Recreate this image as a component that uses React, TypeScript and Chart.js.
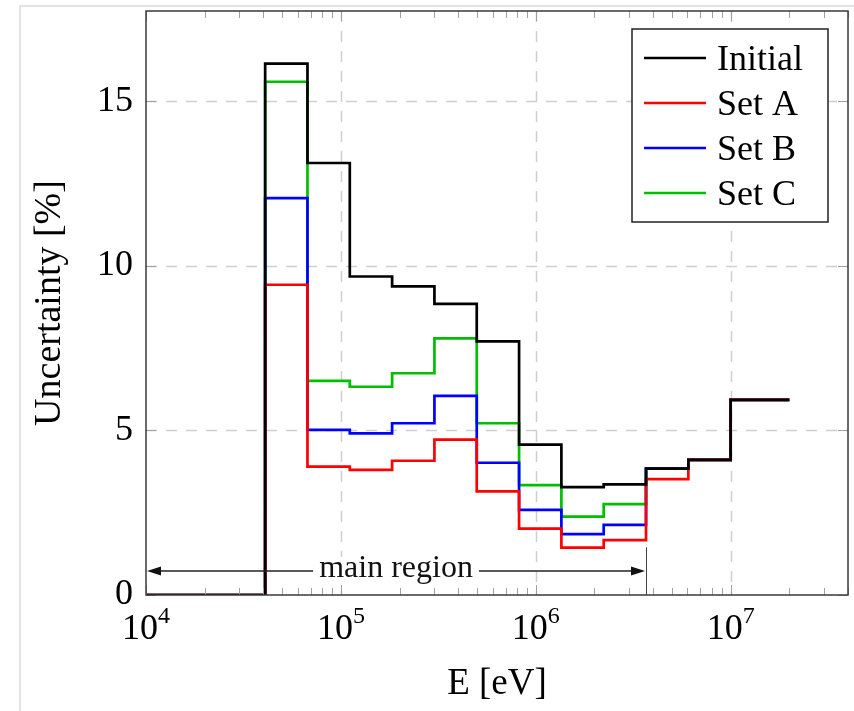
import React, { useEffect, useRef } from 'react';
import { Chart, registerables } from 'chart.js';

Chart.register(...registerables);

// Bin edges in eV (left edges, last = right end of last bin)
const binEdges = [1e4, 4.0868e4, 6.7379e4, 1.1109e5, 1.8316e5, 3.0197e5, 4.9787e5, 8.2085e5, 1.3534e6, 2.2313e6, 3.6788e6, 6.0653e6, 1e7, 2e7];

// Uncertainty [%] per bin
const initialVals = [0, 16.15, 13.13, 9.68, 9.38, 8.85, 7.71, 4.57, 3.28, 3.36, 3.84, 4.11, 5.93];
const setAVals = [0, 9.43, 3.9, 3.8, 4.08, 4.72, 3.15, 2.02, 1.44, 1.67, 3.52, 4.11, 5.93];
const setBVals = [0, 12.06, 5.02, 4.91, 5.22, 6.05, 4.02, 2.59, 1.85, 2.13, 3.84, 4.11, 5.93];
const setCVals = [0, 15.6, 6.51, 6.33, 6.74, 7.8, 5.22, 3.34, 2.38, 2.76, 3.84, 4.11, 5.93];

const seriesNames = ['Initial', 'Set A', 'Set B', 'Set C'];
const seriesColors = ['#000000', '#ff0000', '#0000ff', '#00bf00'];
const seriesValues = [initialVals, setAVals, setBVals, setCVals];

const xMin = 1e4;
const xMax = 4e7;
const yMin = 0;
const yMax = 17.75;
const xMajorTicks = [1e4, 1e5, 1e6, 1e7];
const xTickBase = '10';
const xTickExponents = ['4', '5', '6', '7'];
const yTicks = [0, 5, 10, 15];
const xTitle = 'E [eV]';
const yTitle = 'Uncertainty [%]';

const regionLabel = 'main region';
const regionStart = 1e4;
const regionEnd = 3.6788e6;
const regionY = 0.73;
const regionMarkTop = 1.45;

const FONT = "'Liberation Serif', 'Times New Roman', serif";

function toPoints(vals: number[]) {
  const pts = vals.map((v, i) => ({ x: binEdges[i], y: v }));
  pts.push({ x: binEdges[binEdges.length - 1], y: vals[vals.length - 1] });
  return pts;
}

const decorPlugin = {
  id: 'decor',
  beforeDraw(chart: any) {
    const ctx = chart.ctx;
    ctx.save();
    ctx.fillStyle = '#ffffff';
    ctx.fillRect(0, 0, chart.width, chart.height);
    // outer light frame
    ctx.strokeStyle = '#e3e3e3';
    ctx.lineWidth = 2;
    ctx.beginPath();
    ctx.moveTo(20, chart.height);
    ctx.lineTo(20, 6);
    ctx.lineTo(chart.width, 6);
    ctx.stroke();
    ctx.restore();
  },
  beforeDatasetsDraw(chart: any) {
    const ctx = chart.ctx;
    const { left, right, top, bottom } = chart.chartArea;
    const xs = chart.scales.x;
    const ys = chart.scales.y;
    ctx.save();
    ctx.strokeStyle = '#cfcfcf';
    ctx.lineWidth = 1.5;
    ctx.setLineDash([11, 9]);
    xMajorTicks.forEach((v) => {
      const px = Math.round(xs.getPixelForValue(v)) + 0.5;
      if (px <= left + 1) return;
      ctx.beginPath();
      ctx.moveTo(px, top);
      ctx.lineTo(px, bottom);
      ctx.stroke();
    });
    yTicks.forEach((v) => {
      const py = Math.round(ys.getPixelForValue(v)) + 0.5;
      if (py >= bottom - 1) return;
      ctx.beginPath();
      ctx.moveTo(left, py);
      ctx.lineTo(right, py);
      ctx.stroke();
    });
    ctx.restore();
  },
  afterDatasetsDraw(chart: any) {
    const ctx = chart.ctx;
    const { left, right, top, bottom } = chart.chartArea;
    const xs = chart.scales.x;
    const ys = chart.scales.y;
    ctx.save();

    // tick marks
    ctx.strokeStyle = '#a0a0a0';
    ctx.lineWidth = 1;
    ctx.setLineDash([]);
    for (let d = 4; d <= 7; d++) {
      for (let m = 1; m <= 9; m++) {
        const v = m * Math.pow(10, d);
        if (v < xMin || v > xMax) continue;
        const px = Math.round(xs.getPixelForValue(v)) + 0.5;
        const len = m === 1 ? 10 : 7;
        ctx.beginPath();
        ctx.moveTo(px, bottom);
        ctx.lineTo(px, bottom - len);
        ctx.moveTo(px, top);
        ctx.lineTo(px, top + len);
        ctx.stroke();
      }
    }
    yTicks.forEach((v) => {
      const py = Math.round(ys.getPixelForValue(v)) + 0.5;
      ctx.beginPath();
      ctx.moveTo(left, py);
      ctx.lineTo(left + 10, py);
      ctx.moveTo(right, py);
      ctx.lineTo(right - 10, py);
      ctx.stroke();
    });

    // frame
    ctx.strokeStyle = '#3a3a3a';
    ctx.lineWidth = 1.5;
    ctx.strokeRect(left, top, right - left, bottom - top);

    // x tick labels 10^n
    ctx.fillStyle = '#000';
    xMajorTicks.forEach((v, i) => {
      const px = xs.getPixelForValue(v);
      ctx.font = `36px ${FONT}`;
      const wb = ctx.measureText(xTickBase).width;
      ctx.font = `24px ${FONT}`;
      const we = ctx.measureText(xTickExponents[i]).width;
      const x0 = px - (wb + we) / 2;
      ctx.textAlign = 'left';
      ctx.textBaseline = 'alphabetic';
      ctx.font = `36px ${FONT}`;
      ctx.fillText(xTickBase, x0, bottom + 44);
      ctx.font = `24px ${FONT}`;
      ctx.fillText(xTickExponents[i], x0 + wb, bottom + 28);
    });

    // main region annotation
    const ax0 = xs.getPixelForValue(regionStart);
    const ax1 = xs.getPixelForValue(regionEnd);
    const ay = ys.getPixelForValue(regionY);
    const markTop = ys.getPixelForValue(regionMarkTop);
    ctx.strokeStyle = '#444';
    ctx.lineWidth = 1;
    ctx.beginPath();
    ctx.moveTo(Math.round(ax1) + 0.5, markTop);
    ctx.lineTo(Math.round(ax1) + 0.5, bottom);
    ctx.stroke();
    ctx.strokeStyle = '#222';
    ctx.lineWidth = 1.5;
    ctx.beginPath();
    ctx.moveTo(ax0 + 4, ay);
    ctx.lineTo(ax1 - 4, ay);
    ctx.stroke();
    ctx.fillStyle = '#111';
    ctx.beginPath();
    ctx.moveTo(ax0 + 1, ay);
    ctx.lineTo(ax0 + 15, ay - 4.5);
    ctx.lineTo(ax0 + 15, ay + 4.5);
    ctx.closePath();
    ctx.fill();
    ctx.beginPath();
    ctx.moveTo(ax1 - 1, ay);
    ctx.lineTo(ax1 - 15, ay - 4.5);
    ctx.lineTo(ax1 - 15, ay + 4.5);
    ctx.closePath();
    ctx.fill();
    ctx.font = `32px ${FONT}`;
    const tw = ctx.measureText(regionLabel).width;
    const cx = (ax0 + ax1) / 2;
    ctx.fillStyle = '#fff';
    ctx.fillRect(cx - tw / 2 - 6, ay - 14, tw + 12, 28);
    ctx.fillStyle = '#111';
    ctx.textAlign = 'center';
    ctx.textBaseline = 'alphabetic';
    ctx.fillText(regionLabel, cx, ay + 6);

    // legend
    const bw = 196;
    const bh = 193;
    const bx = right - 20 - bw;
    const by = top + 18;
    ctx.fillStyle = '#fff';
    ctx.fillRect(bx, by, bw, bh);
    ctx.strokeStyle = '#222';
    ctx.lineWidth = 1.5;
    ctx.strokeRect(bx, by, bw, bh);
    seriesNames.forEach((name, i) => {
      const ry = by + 29 + i * 45;
      ctx.strokeStyle = seriesColors[i];
      ctx.lineWidth = 2.5;
      ctx.beginPath();
      ctx.moveTo(bx + 12, ry);
      ctx.lineTo(bx + 74, ry);
      ctx.stroke();
      ctx.fillStyle = '#000';
      ctx.font = `36px ${FONT}`;
      ctx.textAlign = 'left';
      ctx.textBaseline = 'alphabetic';
      ctx.fillText(name, bx + 85, ry + 12);
    });

    ctx.restore();
  },
};

export default function App() {
  const canvasRef = useRef<HTMLCanvasElement | null>(null);

  useEffect(() => {
    const canvas = canvasRef.current;
    if (!canvas) return;
    const chart = new Chart(canvas, {
      type: 'line',
      data: {
        datasets: seriesNames.map((name, i) => ({
          label: name,
          data: toPoints(seriesValues[i]),
          borderColor: seriesColors[i],
          backgroundColor: seriesColors[i],
          borderWidth: 2.7,
          stepped: true,
          pointRadius: 0,
          fill: false,
        })),
      },
      options: {
        responsive: false,
        animation: false,
        events: [],
        layout: { padding: { left: 0, right: 6, top: 11, bottom: 0 } },
        plugins: {
          legend: { display: false },
          tooltip: { enabled: false },
        },
        scales: {
          x: {
            type: 'logarithmic',
            min: xMin,
            max: xMax,
            afterBuildTicks: (s: any) => {
              s.ticks = xMajorTicks.map((v) => ({ value: v }));
            },
            afterFit: (s: any) => {
              s.height = 116;
              s.paddingLeft = 0;
              s.paddingRight = 0;
              s.paddingTop = 0;
              s.paddingBottom = 0;
            },
            ticks: { display: false },
            grid: { display: false },
            border: { display: false },
            title: {
              display: true,
              text: xTitle,
              color: '#000',
              font: { family: FONT, size: 37 },
              padding: { top: 0, bottom: 5 },
            },
          },
          y: {
            type: 'linear',
            min: yMin,
            max: yMax,
            afterBuildTicks: (s: any) => {
              s.ticks = yTicks.map((v) => ({ value: v }));
            },
            afterFit: (s: any) => {
              s.width = 146;
              s.paddingTop = 0;
              s.paddingBottom = 0;
              s.paddingLeft = 0;
              s.paddingRight = 0;
            },
            ticks: {
              color: '#000',
              font: { family: FONT, size: 36 },
              padding: 13,
            },
            grid: { display: false, drawTicks: false },
            border: { display: false },
            title: {
              display: true,
              text: yTitle,
              color: '#000',
              font: { family: FONT, size: 38 },
              padding: { top: 27, bottom: 0 },
            },
          },
        },
      },
      plugins: [decorPlugin],
    } as any);
    return () => chart.destroy();
  }, []);

  return (
    <div style={{ position: 'fixed', left: 0, top: 0, width: 854, height: 711, background: '#fff' }}>
      <canvas ref={canvasRef} width={854} height={711} style={{ display: 'block' }} />
    </div>
  );
}
